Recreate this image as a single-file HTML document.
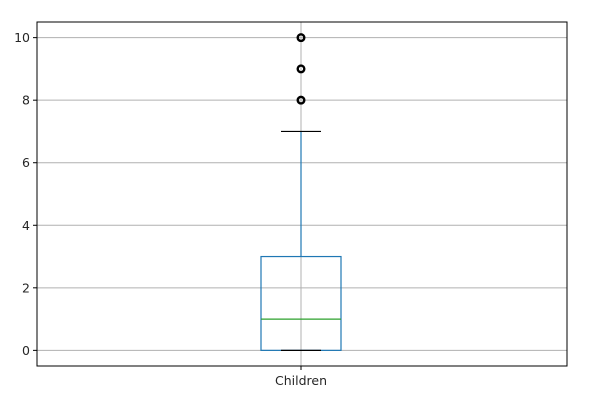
<!DOCTYPE html>
<html><head><meta charset="utf-8"><style>
body{margin:0;background:#fff;}
svg text{font-family:"DejaVu Sans","Liberation Sans",sans-serif;font-size:12.5px;fill:#262626;}
</style></head><body>
<svg width="600" height="404" id="chart"></svg>
<script>
const categories=["Children"];
const whiskerLow=[0];
const q1=[0];
const median=[1];
const q3=[3];
const whiskerHigh=[7];
const outliers=[[8,9,10]];
const yTicks=[0,2,4,6,8,10];

const L=37,R=567,T=22,B=366;
const yMin=-0.5,yMax=10.5;
const y=v=>B-(v-yMin)/(yMax-yMin)*(B-T);
const x=i=>L+(R-L)*(i+1)/(categories.length+1)-1;
const svg=document.getElementById('chart');
const NS='http://www.w3.org/2000/svg';
function mk(tag,attrs,parent){const e=document.createElementNS(NS,tag);for(const k in attrs)e.setAttribute(k,attrs[k]);(parent||svg).appendChild(e);return e;}

yTicks.forEach(t=>{
  const g=mk('line',{x1:L,x2:R,y1:y(t),y2:y(t),stroke:'#b0b0b0','stroke-width':1});
  
  
  const tk=mk('line',{x1:L-4,x2:L,y1:y(t),y2:y(t),stroke:'#000'});
  
  
  const tx=mk('text',{x:L-7,y:y(t)+4.5,'text-anchor':'end'});tx.textContent=t;
  
  
});
categories.forEach((c,i)=>{
  const cx=x(i);
  const vg=mk('line',{x1:cx,x2:cx,y1:T,y2:B,stroke:'#b0b0b0'});
  
  
  const bw=80,cw=40;
  const wl=mk('line',{x1:cx,x2:cx,y1:y(q1[i]),y2:y(whiskerLow[i]),stroke:'#1f77b4','stroke-width':1.2});
  
  
  const wh=mk('line',{x1:cx,x2:cx,y1:y(q3[i]),y2:y(whiskerHigh[i]),stroke:'#1f77b4','stroke-width':1.2});
  
  
  const box=mk('rect',{x:cx-bw/2,y:y(q3[i]),width:bw,height:y(q1[i])-y(q3[i]),fill:'none',stroke:'#1f77b4','stroke-width':1.2});
  
  
  const md=mk('line',{x1:cx-bw/2,x2:cx+bw/2,y1:y(median[i]),y2:y(median[i]),stroke:'#2ca02c','stroke-width':1.2});
  
  
  const c1=mk('line',{x1:cx-cw/2,x2:cx+cw/2,y1:y(whiskerLow[i]),y2:y(whiskerLow[i]),stroke:'#000','stroke-width':1.2});
  
  
  const c2=mk('line',{x1:cx-cw/2,x2:cx+cw/2,y1:y(whiskerHigh[i]),y2:y(whiskerHigh[i]),stroke:'#000','stroke-width':1.2});
  
  
  outliers[i].forEach(v=>{
    const o=mk('circle',{cx:cx,cy:y(v),r:3.3,fill:'none',stroke:'#000','stroke-width':2.4});
    
    
  });
  const tk=mk('line',{x1:cx,x2:cx,y1:B,y2:B+4,stroke:'#000'});
  
  
  const lb=mk('text',{x:cx,y:B+19,'text-anchor':'middle'});lb.textContent=c;
  
  
});
const fr=mk('rect',{x:L,y:T,width:R-L,height:B-T,fill:'none',stroke:'#000','stroke-width':1});


</script>
</body></html>
